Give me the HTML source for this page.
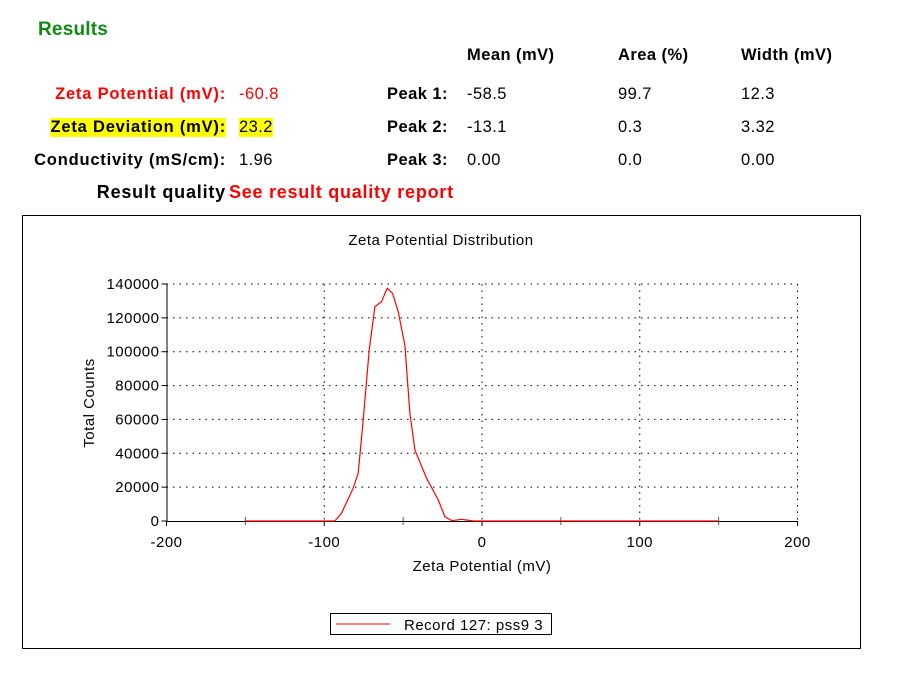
<!DOCTYPE html>
<html><head><meta charset="utf-8"><style>
body{margin:0;background:#fff;width:900px;height:676px;overflow:hidden;font-family:"Liberation Sans",Arial,sans-serif;position:relative}
.t{position:absolute;font-size:16.5px;letter-spacing:0.45px;white-space:nowrap}
.b{font-weight:bold}
.r{color:#f00}
.lb{letter-spacing:0.8px}
</style></head><body>
<div class="t b" style="left:38px;top:19px;color:#138a13;font-size:19px;letter-spacing:0.2px">Results</div>
<div class="t b" style="left:467px;top:46px">Mean (mV)</div>
<div class="t b" style="left:618px;top:46px">Area (%)</div>
<div class="t b" style="left:741px;top:46px">Width (mV)</div>
<div class="t b r lb" style="right:674px;top:85px">Zeta Potential (mV):</div>
<div class="t r" style="left:239px;top:85px">-60.8</div>
<div class="t b lb" style="right:674px;top:118px;background:#ff0">Zeta Deviation (mV):</div>
<div class="t" style="left:239px;top:118px;background:#ff0">23.2</div>
<div class="t b lb" style="right:674px;top:151px">Conductivity (mS/cm):</div>
<div class="t" style="left:239px;top:151px">1.96</div>
<div class="t b" style="left:387px;top:85px">Peak 1:</div>
<div class="t b" style="left:387px;top:118px">Peak 2:</div>
<div class="t b" style="left:387px;top:151px">Peak 3:</div>
<div class="t" style="left:467px;top:85px">-58.5</div>
<div class="t" style="left:467px;top:118px">-13.1</div>
<div class="t" style="left:467px;top:151px">0.00</div>
<div class="t" style="left:618px;top:85px">99.7</div>
<div class="t" style="left:618px;top:118px">0.3</div>
<div class="t" style="left:618px;top:151px">0.0</div>
<div class="t" style="left:741px;top:85px">12.3</div>
<div class="t" style="left:741px;top:118px">3.32</div>
<div class="t" style="left:741px;top:151px">0.00</div>
<div class="t b" style="right:674px;top:182px;font-size:18px;letter-spacing:0.8px">Result quality</div>
<div class="t b r" style="left:229px;top:182px;font-size:18px;letter-spacing:0.75px">See result quality report</div>

<svg id="chart" width="900" height="676" style="position:absolute;left:0;top:0" font-family="Liberation Sans, Arial, sans-serif" letter-spacing="0.5"></svg>
<script>
const xTicks=[-200,-100,0,100,200];
const yTicks=[0,20000,40000,60000,80000,100000,120000,140000];
const seriesX=[-150,-93.3,-89.1,-81.7,-78.5,-75.3,-71.5,-67.9,-63.7,-60.1,-56.7,-53.1,-48.9,-45.7,-42.5,-35.1,-27.7,-23.5,-19.2,-12.9,-5.5,150];
const seriesY=[0,0,4550,19300,28200,59700,101000,126600,129500,137500,134500,123600,104000,63600,41900,25200,12400,2500,200,1000,0,0];
const NS='http://www.w3.org/2000/svg';
const svg=document.getElementById('chart');
const X=v=>482+v*1.5775;
const Y=v=>521-v*237/140000;
function mk(tag,attrs,parent){const e=document.createElementNS(NS,tag);for(const k in attrs)e.setAttribute(k,attrs[k]);(parent||svg).appendChild(e);return e;}
let e=mk('rect',{x:22.5,y:215.5,width:838,height:433,fill:'none',stroke:'#000'});


e=mk('text',{x:441,y:245,'text-anchor':'middle','font-size':15});e.textContent='Zeta Potential Distribution';


yTicks.forEach(v=>{
 if(v>0){const g=mk('line',{x1:X(-200),x2:X(200),y1:Y(v),y2:Y(v),stroke:'#000','stroke-dasharray':'1.5 5'});
 
 }
 const t=mk('line',{x1:X(-200)-5,x2:X(-200),y1:Y(v),y2:Y(v),stroke:'#000'});
 
 
 const l=mk('text',{x:X(-200)-7,y:Y(v)+5,'text-anchor':'end','font-size':15});l.textContent=v;
 
 
});
xTicks.forEach(v=>{
 if(v>-200){const g=mk('line',{x1:X(v),x2:X(v),y1:Y(140000),y2:Y(0),stroke:'#000','stroke-dasharray':'1.5 5'});
 
 }
 const t=mk('line',{x1:X(v),x2:X(v),y1:Y(0),y2:Y(0)+5,stroke:'#000'});
 
 
 const l=mk('text',{x:X(v),y:Y(0)+26,'text-anchor':'middle','font-size':15});l.textContent=v;
 
 
});
[-150,-50,50,150].forEach(v=>{const t=mk('line',{x1:X(v),x2:X(v),y1:Y(0)-4,y2:Y(0)+4,stroke:'#555'});
 
 });
e=mk('line',{x1:X(-200),x2:X(200),y1:Y(0)+.5,y2:Y(0)+.5,stroke:'#000'});


e=mk('line',{x1:X(-200)+.5,x2:X(-200)+.5,y1:Y(140000),y2:Y(0),stroke:'#000'});


e=mk('polyline',{points:seriesX.map((x,i)=>X(x)+','+Y(seriesY[i])).join(' '),fill:'none',stroke:'#f00','stroke-width':1.2});


e=mk('text',{x:482,y:571,'text-anchor':'middle','font-size':15});e.textContent='Zeta Potential (mV)';


e=mk('text',{x:0,y:0,'text-anchor':'middle','font-size':15,transform:'translate(94,403) rotate(-90)'});e.textContent='Total Counts';


const lg=mk('g',{});


mk('rect',{x:330.5,y:613.5,width:221,height:21,fill:'#fff',stroke:'#000'},lg);
mk('line',{x1:336,x2:390,y1:624,y2:624,stroke:'#f00'},lg);
e=mk('text',{x:404,y:630,'font-size':15},lg);e.textContent='Record 127: pss9 3';
</script>
</body></html>
